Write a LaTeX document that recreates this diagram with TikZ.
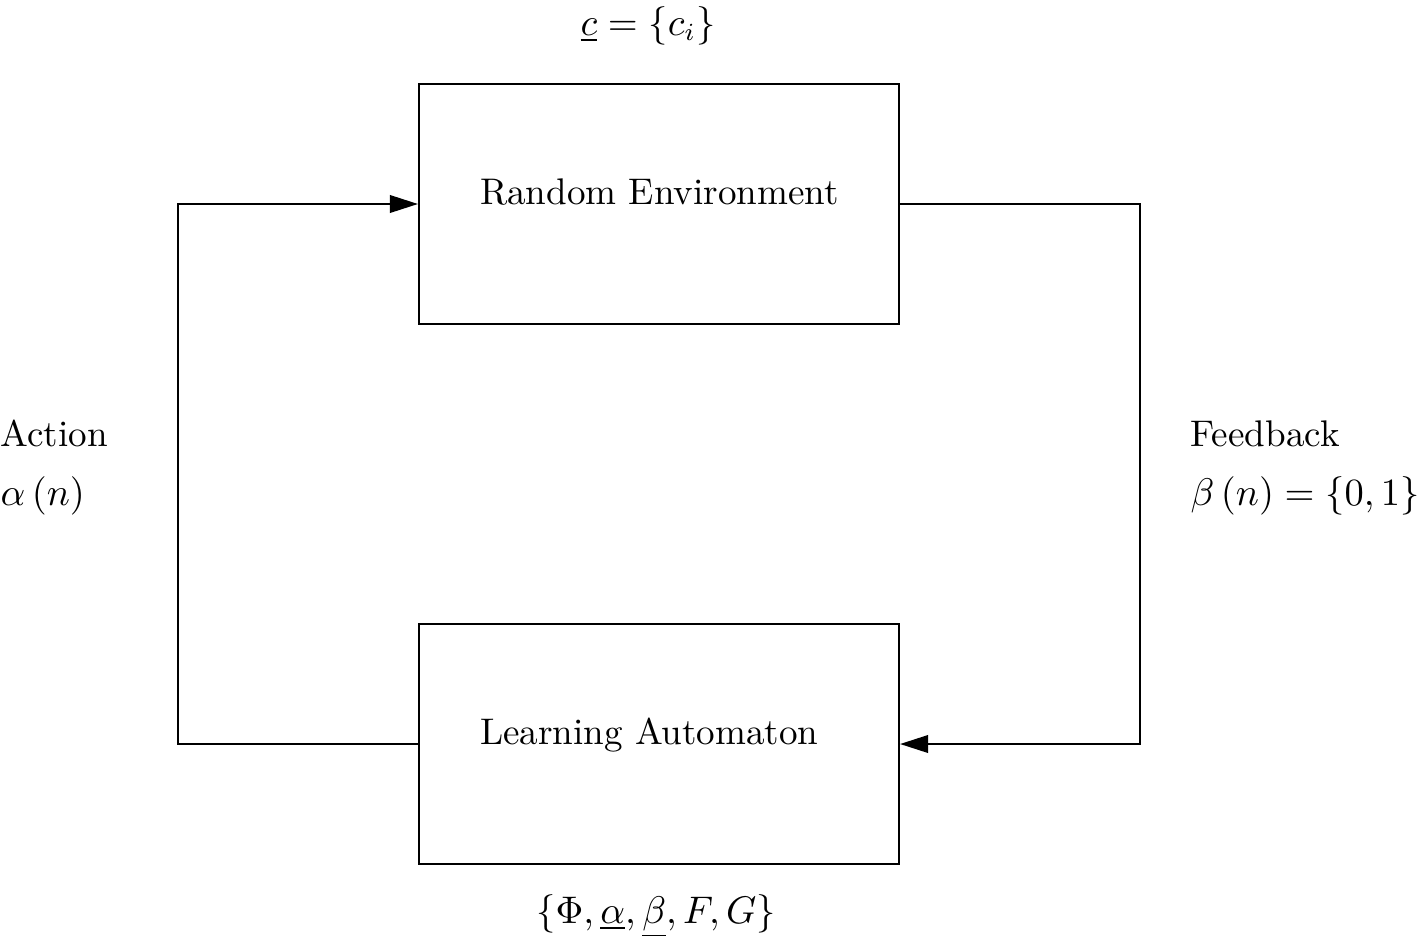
\documentclass[tikz,border=0pt]{standalone}
\usepackage{tikz}
\usetikzlibrary{arrows.meta, positioning}

\begin{document}
\begin{tikzpicture}[
      font=\fontsize{10.55}{12.5}\selectfont,
      block/.style={draw, line width=0.6pt, minimum width=4.8cm, minimum height=2.4cm, text width=3.58cm, align=left, inner xsep=0.61cm, text height=0pt, text depth=0pt},
      lbl/.style={inner sep=0pt},
      arr/.style={-{Triangle[length=8pt, width=5pt]}, line width=0.6pt},
    ]
      \useasboundingbox (0,0) rectangle (14.18,-9.38);

      \node[block] (re) at (6.59,-2.04) {\mbox{Random Environment}};
      \node[block] (la) at (6.59,-7.44) {\mbox{Learning Automaton}};

      \draw[arr] (la.west) -- ++(-2.4,0) |- (re.west);
      \draw[arr] (re.east) -- ++(2.4,0) |- (la.east);

      \node[lbl, anchor=base] (cset) at (6.48,-0.35) {$\underline{c}=\{c_i\}$};
      \node[lbl, anchor=base] (lset) at (6.56,-9.23) {$\{\Phi,\underline{\alpha},\underline{\beta},F,G\}$};

      \node[lbl, anchor=base west] (act) at (0,-4.46) {Action};
      \node[lbl, anchor=base west] (actn) at (0,-5.05) {$\alpha\left(n\right)$};
      \node[lbl, anchor=base west] (fb) at (11.90,-4.46) {Feedback};
      \node[lbl, anchor=base west] (fbn) at (11.90,-5.05) {$\beta\left(n\right)=\{0,1\}$};
    \end{tikzpicture}
\end{document}
